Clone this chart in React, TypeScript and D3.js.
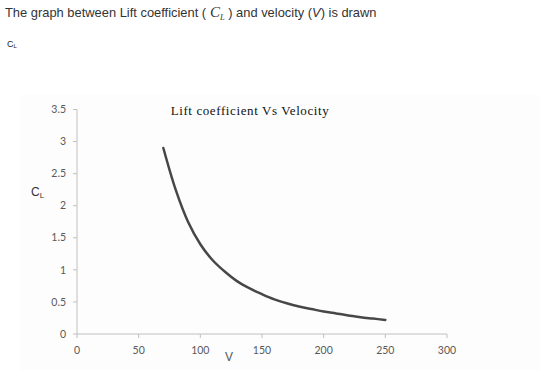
import * as d3 from "d3";

const velocity = [70, 80, 90, 100, 110, 120, 130, 140, 150, 160, 170, 180, 190, 200, 210, 220, 230, 240, 250];
const liftCoef = [2.9, 2.25, 1.75, 1.4, 1.15, 0.97, 0.82, 0.71, 0.62, 0.54, 0.48, 0.43, 0.39, 0.35, 0.32, 0.29, 0.26, 0.24, 0.22];
const xTicks = [0, 50, 100, 150, 200, 250, 300];
const yTicks = [0, 0.5, 1, 1.5, 2, 2.5, 3, 3.5];

const width = 560;
const height = 374;

export default function App() {
  const x = d3.scaleLinear().domain([0, 300]).range([77, 447]);
  const y = d3.scaleLinear().domain([0, 3.5]).range([334, 109.5]);

  const line = d3
    .line<number>()
    .x((_, i) => x(velocity[i]))
    .y((d) => y(d))
    .curve(d3.curveCatmullRom.alpha(0.5));

  const axisColor = "#c0c0c0";
  const tickFont = "Lato, 'Open Sans', sans-serif";

  return (
    <svg
      width={width}
      height={height}
      style={{ position: "absolute", left: 0, top: 0, background: "#fff" }}
    >
      <text x={5} y={17} fontFamily="'Liberation Sans', Arial, sans-serif" fontSize={12.9} fill="#333">
        The graph between Lift coefficient (
        <tspan fontFamily="'Liberation Serif', serif" fontStyle="italic" fontSize={15}> C</tspan>
        <tspan fontFamily="'Liberation Serif', serif" fontStyle="italic" fontSize={8.5} dy={3}>L</tspan>
        <tspan dy={-3}> ) and velocity (</tspan>
        <tspan fontStyle="italic">V</tspan>
        <tspan>) is drawn</tspan>
      </text>
      <text x={7} y={47} fontFamily="'Liberation Sans', Arial, sans-serif" fontSize={9} fill="#222">
        C<tspan fontSize={6} dy={1}>L</tspan>
      </text>

      {/* plot background */}
      <rect x={20} y={95} width={520} height={275} fill="#fdfdfd" />

      <text x={250} y={115} textAnchor="middle" fontFamily="'Liberation Serif', 'DejaVu Serif', serif" fontSize={13} fill="#111" letterSpacing={0.6}>
        Lift coefficient Vs Velocity
      </text>

      {/* y axis */}
      <line x1={x(0)} x2={x(0)} y1={y(3.5)} y2={y(0)} stroke={axisColor} />
      {yTicks.map((t) => (
        <g key={t}>
          <line x1={x(0) - 4} x2={x(0)} y1={y(t)} y2={y(t)} stroke={axisColor} />
          <text x={x(0) - 11} y={y(t)} dy="0.35em" textAnchor="end" fontFamily={tickFont} fontSize={10.5} fill="#595959">
            {t}
          </text>
        </g>
      ))}

      {/* x axis */}
      <line x1={x(0)} x2={x(300)} y1={y(0)} y2={y(0)} stroke={axisColor} />
      {xTicks.map((t) => (
        <g key={t}>
          <line x1={x(t)} x2={x(t)} y1={y(0)} y2={y(0) + 4} stroke={axisColor} />
          <text x={x(t)} y={y(0) + 20} textAnchor="middle" fontFamily={tickFont} fontSize={10.5} fill="#595959">
            {t}
          </text>
        </g>
      ))}

      <text x={31} y={196} fontFamily="'Liberation Sans', Arial, sans-serif" fontSize={12} fill="#333">
        C<tspan fontSize={8} dy={2}>L</tspan>
      </text>
      <text x={229} y={361} textAnchor="middle" fontFamily="'Liberation Sans', Arial, sans-serif" fontSize={12} fill="#555">
        V
      </text>

      <path d={line(liftCoef) ?? ""} fill="none" stroke="#474747" strokeWidth={2.5} strokeLinecap="round" />
    </svg>
  );
}
